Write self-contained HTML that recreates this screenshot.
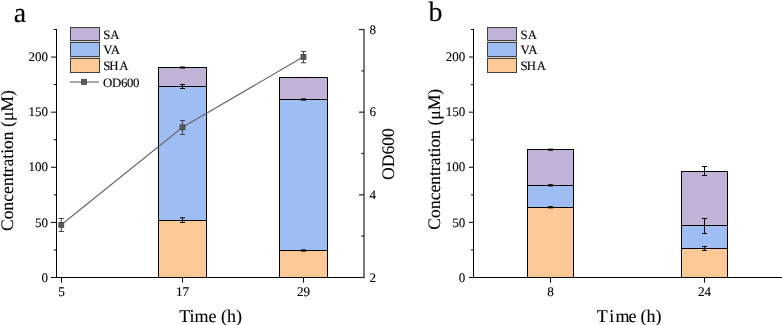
<!DOCTYPE html>
<html><head><meta charset="utf-8"><style>
html,body{margin:0;padding:0;background:#fff;width:782px;height:325px;overflow:hidden}
svg{display:block;font-family:'Liberation Serif',serif;text-rendering:geometricPrecision;will-change:transform}
text{fill:#000;stroke:#000;stroke-width:0.12px}
</style></head><body>
<svg width="782" height="325" viewBox="0 0 782 325">
<rect x="158.5" y="220.5" width="48" height="57.0" fill="#FCC896" stroke="#000" stroke-width="1"/>
<rect x="158.5" y="86.5" width="48" height="134.0" fill="#9EBDF2" stroke="#000" stroke-width="1"/>
<rect x="158.5" y="67.5" width="48" height="19.0" fill="#C1B2D8" stroke="#000" stroke-width="1"/>
<rect x="279.5" y="250.5" width="48" height="27.0" fill="#FCC896" stroke="#000" stroke-width="1"/>
<rect x="279.5" y="99.5" width="48" height="151.0" fill="#9EBDF2" stroke="#000" stroke-width="1"/>
<rect x="279.5" y="77.5" width="48" height="22.0" fill="#C1B2D8" stroke="#000" stroke-width="1"/>
<line x1="182.5" y1="217.8" x2="182.5" y2="222.5" stroke="#000" stroke-width="1.0"/>
<line x1="180" y1="217.8" x2="185" y2="217.8" stroke="#000" stroke-width="1.0"/>
<line x1="180" y1="222.5" x2="185" y2="222.5" stroke="#000" stroke-width="1.0"/>
<line x1="182.5" y1="84.5" x2="182.5" y2="88.5" stroke="#000" stroke-width="1.0"/>
<line x1="180" y1="84.5" x2="185" y2="84.5" stroke="#000" stroke-width="1.0"/>
<line x1="180" y1="88.5" x2="185" y2="88.5" stroke="#000" stroke-width="1.0"/>
<rect x="180" y="66.4" width="5" height="2.2" fill="#000" opacity="0.9"/>
<rect x="301" y="98.3" width="5" height="2.4" fill="#000" opacity="0.9"/>
<rect x="301" y="249.3" width="5" height="2.4" fill="#000" opacity="0.9"/>
<rect x="301" y="76.9" width="5" height="1.2" fill="#000" opacity="0.5"/>
<polyline points="61.3,224.8 182.5,127.3 303.5,56.8" fill="none" stroke="#686868" stroke-width="1.15"/>
<line x1="61.3" y1="218.5" x2="61.3" y2="231.5" stroke="#444" stroke-width="1.0"/>
<line x1="58.699999999999996" y1="218.5" x2="63.9" y2="218.5" stroke="#444" stroke-width="1.0"/>
<line x1="58.699999999999996" y1="231.5" x2="63.9" y2="231.5" stroke="#444" stroke-width="1.0"/>
<rect x="58.8" y="222.3" width="5.0" height="5.0" fill="#5a5a5a" stroke="#3a3a3a" stroke-width="0.7"/>
<line x1="182.5" y1="120.5" x2="182.5" y2="134.5" stroke="#444" stroke-width="1.0"/>
<line x1="179.9" y1="120.5" x2="185.1" y2="120.5" stroke="#444" stroke-width="1.0"/>
<line x1="179.9" y1="134.5" x2="185.1" y2="134.5" stroke="#444" stroke-width="1.0"/>
<rect x="180.0" y="124.8" width="5.0" height="5.0" fill="#5a5a5a" stroke="#3a3a3a" stroke-width="0.7"/>
<line x1="303.5" y1="51.5" x2="303.5" y2="62.8" stroke="#444" stroke-width="1.0"/>
<line x1="300.9" y1="51.5" x2="306.1" y2="51.5" stroke="#444" stroke-width="1.0"/>
<line x1="300.9" y1="62.8" x2="306.1" y2="62.8" stroke="#444" stroke-width="1.0"/>
<rect x="301.0" y="54.3" width="5.0" height="5.0" fill="#5a5a5a" stroke="#3a3a3a" stroke-width="0.7"/>
<line x1="56.5" y1="29" x2="56.5" y2="278" stroke="#000" stroke-width="1.0"/>
<line x1="51" y1="277.5" x2="364.6" y2="277.5" stroke="#000" stroke-width="1.0"/>
<line x1="364" y1="29" x2="364" y2="278" stroke="#222" stroke-width="1.2"/>
<line x1="51" y1="277.5" x2="56.5" y2="277.5" stroke="#000" stroke-width="1.0"/>
<text x="48.0" y="281.7" font-size="13" text-anchor="end" >0</text>
<line x1="51" y1="222.39" x2="56.5" y2="222.39" stroke="#000" stroke-width="1.0"/>
<text x="48.0" y="226.58999999999997" font-size="13" text-anchor="end" >50</text>
<line x1="51" y1="167.27999999999997" x2="56.5" y2="167.27999999999997" stroke="#000" stroke-width="1.0"/>
<text x="48.0" y="171.47999999999996" font-size="13" text-anchor="end" >100</text>
<line x1="51" y1="112.16999999999999" x2="56.5" y2="112.16999999999999" stroke="#000" stroke-width="1.0"/>
<text x="48.0" y="116.36999999999999" font-size="13" text-anchor="end" >150</text>
<line x1="51" y1="57.059999999999974" x2="56.5" y2="57.059999999999974" stroke="#000" stroke-width="1.0"/>
<text x="48.0" y="61.25999999999998" font-size="13" text-anchor="end" >200</text>
<line x1="53.8" y1="249.945" x2="56.5" y2="249.945" stroke="#000" stroke-width="1.0"/>
<line x1="53.8" y1="194.83499999999998" x2="56.5" y2="194.83499999999998" stroke="#000" stroke-width="1.0"/>
<line x1="53.8" y1="139.725" x2="56.5" y2="139.725" stroke="#000" stroke-width="1.0"/>
<line x1="53.8" y1="84.61499999999998" x2="56.5" y2="84.61499999999998" stroke="#000" stroke-width="1.0"/>
<line x1="53.8" y1="29.504999999999995" x2="56.5" y2="29.504999999999995" stroke="#000" stroke-width="1.0"/>
<line x1="359" y1="277.5" x2="364" y2="277.5" stroke="#222" stroke-width="1.2"/>
<text x="369.6" y="281.6" font-size="13" text-anchor="start" >2</text>
<line x1="359" y1="194.834" x2="364" y2="194.834" stroke="#222" stroke-width="1.2"/>
<text x="369.6" y="198.934" font-size="13" text-anchor="start" >4</text>
<line x1="359" y1="112.168" x2="364" y2="112.168" stroke="#222" stroke-width="1.2"/>
<text x="369.6" y="116.268" font-size="13" text-anchor="start" >6</text>
<line x1="359" y1="29.50200000000001" x2="364" y2="29.50200000000001" stroke="#222" stroke-width="1.2"/>
<text x="369.6" y="33.60200000000001" font-size="13" text-anchor="start" >8</text>
<line x1="361.4" y1="236.167" x2="364" y2="236.167" stroke="#222" stroke-width="1.2"/>
<line x1="361.4" y1="153.501" x2="364" y2="153.501" stroke="#222" stroke-width="1.2"/>
<line x1="361.4" y1="70.83500000000001" x2="364" y2="70.83500000000001" stroke="#222" stroke-width="1.2"/>
<line x1="61.5" y1="277.5" x2="61.5" y2="282.6" stroke="#000" stroke-width="1.0"/>
<text x="61.5" y="295.6" font-size="13.2" text-anchor="middle" >5</text>
<line x1="182.5" y1="277.5" x2="182.5" y2="282.6" stroke="#000" stroke-width="1.0"/>
<text x="182.5" y="295.6" font-size="13.2" text-anchor="middle" >17</text>
<line x1="303.5" y1="277.5" x2="303.5" y2="282.6" stroke="#000" stroke-width="1.0"/>
<text x="303.5" y="295.6" font-size="13.2" text-anchor="middle" >29</text>
<text x="210.6" y="321.8" font-size="18" text-anchor="middle" >Time (h)</text>
<text transform="translate(12.7,160.6) rotate(-90)" font-size="17.6" text-anchor="middle">Concentration (μM)</text>
<text transform="translate(394.4,154) rotate(-90)" font-size="17.6" text-anchor="middle">OD600</text>
<text x="13.8" y="21.9" font-size="28" text-anchor="start" >a</text>
<rect x="70" y="40" width="30" height="19" fill="#cfcfcf"/>
<rect x="70.5" y="27.5" width="29" height="13.0" fill="#C1B2D8" stroke="#404040" stroke-width="1.0"/>
<text x="103.2" y="38.6" font-size="12.8" text-anchor="start" >SA</text>
<rect x="70.5" y="42.5" width="29" height="14.0" fill="#9EBDF2" stroke="#404040" stroke-width="1.0"/>
<text x="103.2" y="54.0" font-size="12.8" text-anchor="start" >VA</text>
<rect x="70.5" y="58.5" width="29" height="14.0" fill="#FCC896" stroke="#404040" stroke-width="1.0"/>
<text x="103.2" y="70.2" font-size="12.8" text-anchor="start" >S<tspan dx="-1.0">H</tspan><tspan dx="0.7">A</tspan></text>
<line x1="69.7" y1="82.0" x2="98.8" y2="82.0" stroke="#8c8c8c" stroke-width="1.5"/>
<rect x="81.3" y="79.2" width="5.4" height="5.4" fill="#5a5a5a" stroke="#3a3a3a" stroke-width="0.6"/>
<text x="103.0" y="86.5" font-size="12.8" text-anchor="start" letter-spacing="-0.3">OD600</text>
<rect x="527.5" y="207.5" width="46" height="70.0" fill="#FCC896" stroke="#000" stroke-width="1"/>
<rect x="527.5" y="185.5" width="46" height="22.0" fill="#9EBDF2" stroke="#000" stroke-width="1"/>
<rect x="527.5" y="149.5" width="46" height="36.0" fill="#C1B2D8" stroke="#000" stroke-width="1"/>
<rect x="681.5" y="248.5" width="46" height="29.0" fill="#FCC896" stroke="#000" stroke-width="1"/>
<rect x="681.5" y="225.5" width="46" height="23.0" fill="#9EBDF2" stroke="#000" stroke-width="1"/>
<rect x="681.5" y="171.5" width="46" height="54.0" fill="#C1B2D8" stroke="#000" stroke-width="1"/>
<rect x="548" y="148.6" width="5" height="2.2" fill="#000" opacity="0.9"/>
<rect x="548" y="184.10000000000002" width="5" height="2.4" fill="#000" opacity="0.9"/>
<rect x="548" y="206.0" width="5" height="2.4" fill="#000" opacity="0.9"/>
<line x1="704.5" y1="166.5" x2="704.5" y2="175.5" stroke="#000" stroke-width="1.0"/>
<line x1="702" y1="166.5" x2="707" y2="166.5" stroke="#000" stroke-width="1.0"/>
<line x1="702" y1="175.5" x2="707" y2="175.5" stroke="#000" stroke-width="1.0"/>
<line x1="704.5" y1="218.5" x2="704.5" y2="233.5" stroke="#000" stroke-width="1.0"/>
<line x1="702" y1="218.5" x2="707" y2="218.5" stroke="#000" stroke-width="1.0"/>
<line x1="702" y1="233.5" x2="707" y2="233.5" stroke="#000" stroke-width="1.0"/>
<line x1="704.5" y1="246.5" x2="704.5" y2="250.5" stroke="#000" stroke-width="1.0"/>
<line x1="702" y1="246.5" x2="707" y2="246.5" stroke="#000" stroke-width="1.0"/>
<line x1="702" y1="250.5" x2="707" y2="250.5" stroke="#000" stroke-width="1.0"/>
<line x1="473.5" y1="29" x2="473.5" y2="278" stroke="#000" stroke-width="1.0"/>
<line x1="469" y1="277.5" x2="782" y2="277.5" stroke="#000" stroke-width="1.0"/>
<line x1="469" y1="277.5" x2="473.5" y2="277.5" stroke="#000" stroke-width="1.0"/>
<text x="465.3" y="281.7" font-size="13" text-anchor="end" >0</text>
<line x1="469" y1="222.39" x2="473.5" y2="222.39" stroke="#000" stroke-width="1.0"/>
<text x="465.3" y="226.58999999999997" font-size="13" text-anchor="end" >50</text>
<line x1="469" y1="167.27999999999997" x2="473.5" y2="167.27999999999997" stroke="#000" stroke-width="1.0"/>
<text x="465.3" y="171.47999999999996" font-size="13" text-anchor="end" >100</text>
<line x1="469" y1="112.16999999999999" x2="473.5" y2="112.16999999999999" stroke="#000" stroke-width="1.0"/>
<text x="465.3" y="116.36999999999999" font-size="13" text-anchor="end" >150</text>
<line x1="469" y1="57.059999999999974" x2="473.5" y2="57.059999999999974" stroke="#000" stroke-width="1.0"/>
<text x="465.3" y="61.25999999999998" font-size="13" text-anchor="end" >200</text>
<line x1="471" y1="249.945" x2="473.5" y2="249.945" stroke="#000" stroke-width="1.0"/>
<line x1="471" y1="194.83499999999998" x2="473.5" y2="194.83499999999998" stroke="#000" stroke-width="1.0"/>
<line x1="471" y1="139.725" x2="473.5" y2="139.725" stroke="#000" stroke-width="1.0"/>
<line x1="471" y1="84.61499999999998" x2="473.5" y2="84.61499999999998" stroke="#000" stroke-width="1.0"/>
<line x1="471" y1="29.504999999999995" x2="473.5" y2="29.504999999999995" stroke="#000" stroke-width="1.0"/>
<line x1="550.5" y1="277.5" x2="550.5" y2="282.6" stroke="#000" stroke-width="1.0"/>
<text x="550.5" y="295.6" font-size="13.2" text-anchor="middle" >8</text>
<line x1="704.5" y1="277.5" x2="704.5" y2="282.6" stroke="#000" stroke-width="1.0"/>
<text x="704.5" y="295.6" font-size="13.2" text-anchor="middle" >24</text>
<text x="596.8" y="321.8" font-size="18">T<tspan dx="2.0">i</tspan><tspan dx="1.2">m</tspan><tspan dx="-1.0">e</tspan><tspan dx="-0.5"> (h)</tspan></text>
<text transform="translate(440.2,159.2) rotate(-90)" font-size="17.6" text-anchor="middle">Concentration (μM)</text>
<text x="428.6" y="20.6" font-size="28" text-anchor="start" >b</text>
<rect x="487" y="40" width="30" height="19" fill="#cfcfcf"/>
<rect x="487.5" y="27.5" width="29" height="13.0" fill="#C1B2D8" stroke="#404040" stroke-width="1.0"/>
<text x="520.6" y="38.8" font-size="12.8" text-anchor="start" >SA</text>
<rect x="487.5" y="42.5" width="29" height="14.0" fill="#9EBDF2" stroke="#404040" stroke-width="1.0"/>
<text x="520.6" y="54.2" font-size="12.8" text-anchor="start" >VA</text>
<rect x="487.5" y="58.5" width="29" height="14.0" fill="#FCC896" stroke="#404040" stroke-width="1.0"/>
<text x="520.6" y="70.4" font-size="12.8" text-anchor="start" >S<tspan dx="-1.0">H</tspan><tspan dx="0.7">A</tspan></text>
</svg>
</body></html>
